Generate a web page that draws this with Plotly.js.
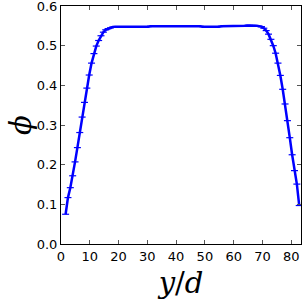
<!DOCTYPE html>
<html><head><meta charset="utf-8">
<script src="https://cdn.plot.ly/plotly-3.0.1.min.js"></script>
<style>html,body{margin:0;padding:0;background:#fff;}#chart{width:307px;height:307px;}</style>
</head><body><div id="chart"></div>
<script>
const xPos = [1.60,2.42,3.24,4.06,4.88,5.70,6.52,7.34,8.16,8.98,
  9.80,10.62,11.44,12.26,13.08,13.90,14.72,15.54,16.36,17.18,
  18.00,18.82,19.64,20.46,21.28,22.10,22.92,23.74,24.56,25.38,
  26.20,27.02,27.84,28.66,29.48,30.30,31.12,31.94,32.76,33.58,
  34.40,35.22,36.04,36.86,37.68,38.50,39.32,40.14,40.96,41.78,
  42.60,43.42,44.24,45.06,45.88,46.70,47.52,48.34,49.16,49.98,
  50.80,51.62,52.44,53.26,54.08,54.90,55.72,56.54,57.36,58.18,
  59.00,59.82,60.64,61.46,62.28,63.10,63.92,64.74,65.56,66.38,
  67.20,68.02,68.84,69.66,70.48,71.30,72.12,72.94,73.76,74.58,
  75.40,76.22,77.04,77.86,78.68,79.50,80.32,81.14,81.96,82.78];
const phi = [0.075,0.117,0.142,0.172,0.207,0.243,0.281,0.320,0.357,0.393,
  0.426,0.456,0.480,0.499,0.513,0.525,0.534,0.540,0.543,0.545,
  0.547,0.548,0.548,0.548,0.548,0.548,0.548,0.548,0.548,0.548,
  0.547,0.547,0.548,0.548,0.548,0.548,0.549,0.549,0.549,0.549,
  0.549,0.550,0.550,0.550,0.550,0.550,0.550,0.550,0.550,0.550,
  0.550,0.549,0.549,0.549,0.549,0.549,0.549,0.549,0.548,0.548,
  0.548,0.547,0.547,0.548,0.548,0.548,0.549,0.549,0.549,0.549,
  0.549,0.549,0.549,0.550,0.550,0.550,0.550,0.551,0.551,0.551,
  0.550,0.550,0.549,0.548,0.544,0.538,0.529,0.516,0.500,0.481,
  0.456,0.425,0.390,0.353,0.311,0.268,0.225,0.185,0.151,0.097];
const xTicks = [0,10,20,30,40,50,60,70,80];
const yTicks = [0.0,0.1,0.2,0.3,0.4,0.5,0.6];

const trace = {
  x: xPos, y: phi, type: 'scatter', mode: 'lines+markers',
  line: {color: '#0000ff', width: 2.5},
  marker: {symbol: 'line-ew', size: 5, color: '#0000ff', line: {width: 1.2, color: '#0000ff'}},
  hoverinfo: 'skip'
};
const axisCommon = {
  showline: true, linecolor: '#000', linewidth: 1, mirror: 'ticks',
  ticks: 'inside', ticklen: 4, tickwidth: 1, tickcolor: '#555',
  showgrid: false, zeroline: false, ticklabeloverflow: 'allow',
  tickfont: {family: 'DejaVu Sans', size: 13, color: '#000'}
};
const layout = {
  width: 307, height: 307,
  margin: {l: 61, r: 6, t: 6, b: 63},
  paper_bgcolor: '#fff', plot_bgcolor: '#fff',
  showlegend: false,
  xaxis: Object.assign({}, axisCommon, {
    range: [0, 83.4], tickvals: xTicks, ticktext: xTicks.map(String),
    title: {text: '<i>y</i>/<i>d</i>', font: {family: 'DejaVu Serif', size: 29, color: '#000'}, standoff: 10}
  }),
  yaxis: Object.assign({}, axisCommon, {
    range: [0, 0.6], tickvals: yTicks, ticktext: yTicks.map(v => v.toFixed(1))
  }),
  annotations: [{
    text: '<i>ϕ</i>', xref: 'paper', yref: 'paper', x: -0.167, y: 0.5,
    xanchor: 'center', yanchor: 'middle', textangle: -90, showarrow: false,
    font: {family: 'DejaVu Serif', size: 29, color: '#000'}
  }]
};
Plotly.newPlot('chart', [trace], layout, {staticPlot: true, displayModeBar: false});
</script>
</body></html>
